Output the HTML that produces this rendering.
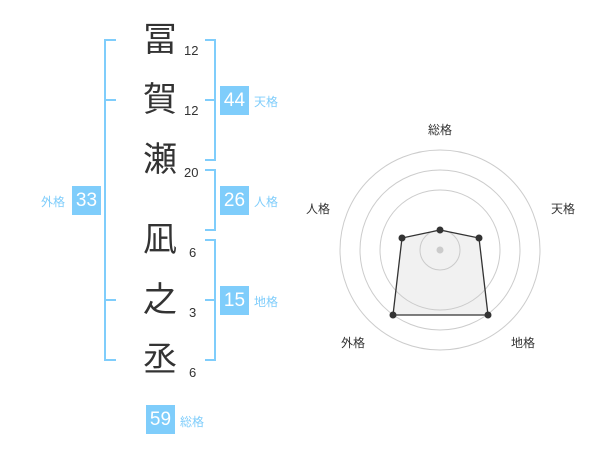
<!DOCTYPE html>
<html><head><meta charset="utf-8"><style>
body{margin:0;width:600px;height:470px;background:#fff;position:relative;font-family:"Liberation Sans","Noto Sans CJK JP",sans-serif;overflow:hidden}
.k{position:absolute;width:40px;text-align:center;left:140px;font-size:34px;line-height:40px;color:#333}
.n{position:absolute;font-size:13px;color:#333;line-height:14px}
.b{position:absolute;width:29px;height:29px;background:#7fcdfb;color:#fff;font-size:19px;line-height:29px;text-align:center}
.l{position:absolute;font-size:12px;color:#7fcdfb;line-height:14px}
</style></head><body>
<svg width="600" height="470" style="position:absolute;left:0;top:0">
<g stroke="#7fcdfb" stroke-width="2" fill="none">
<path d="M116 40H105V360H116M105 100H116M105 300H116"/>
<path d="M205 40H215V160H205M215 100H205"/>
<path d="M205 170H215V230H205"/>
<path d="M205 240H215V360H205M215 300H205"/>
</g>
<g fill="none" stroke="#ccc" stroke-width="1">
<circle cx="440" cy="250" r="100"/><circle cx="440" cy="250" r="80"/><circle cx="440" cy="250" r="60"/><circle cx="440" cy="250" r="20"/>
</g>
<circle cx="440" cy="250" r="3.5" fill="#ccc"/>
<polygon points="440,230 479,238 488,315 393,315 402,238" fill="rgba(200,200,200,0.25)" stroke="#333" stroke-width="1.3"/>
<g fill="#333"><circle cx="440" cy="230" r="3.5"/><circle cx="479" cy="238" r="3.5"/><circle cx="488" cy="315" r="3.5"/><circle cx="393" cy="315" r="3.5"/><circle cx="402" cy="238" r="3.5"/></g>
<g font-size="12" fill="#333" text-anchor="middle" font-family="Liberation Sans,Noto Sans CJK JP,sans-serif">
<text x="440" y="134">総格</text><text x="563" y="213">天格</text><text x="523" y="347">地格</text><text x="353" y="347">外格</text><text x="318" y="213">人格</text>
</g>
</svg>
<div class="k" style="top:20px">冨</div><div class="k" style="top:80px">賀</div><div class="k" style="top:140px">瀬</div>
<div class="k" style="top:220px">凪</div><div class="k" style="top:280px">之</div><div class="k" style="top:340px">丞</div>
<div class="n" style="left:184px;top:44px">12</div><div class="n" style="left:184px;top:104px">12</div><div class="n" style="left:184px;top:166px">20</div>
<div class="n" style="left:189px;top:246px">6</div><div class="n" style="left:189px;top:306px">3</div><div class="n" style="left:189px;top:366px">6</div>
<div class="b" style="left:220px;top:86px">44</div><div class="l" style="left:254px;top:95px">天格</div>
<div class="b" style="left:220px;top:186px">26</div><div class="l" style="left:254px;top:195px">人格</div>
<div class="b" style="left:220px;top:286px">15</div><div class="l" style="left:254px;top:295px">地格</div>
<div class="b" style="left:72px;top:186px">33</div><div class="l" style="left:41px;top:195px">外格</div>
<div class="b" style="left:146px;top:405px">59</div><div class="l" style="left:180px;top:415px">総格</div>
</body></html>
